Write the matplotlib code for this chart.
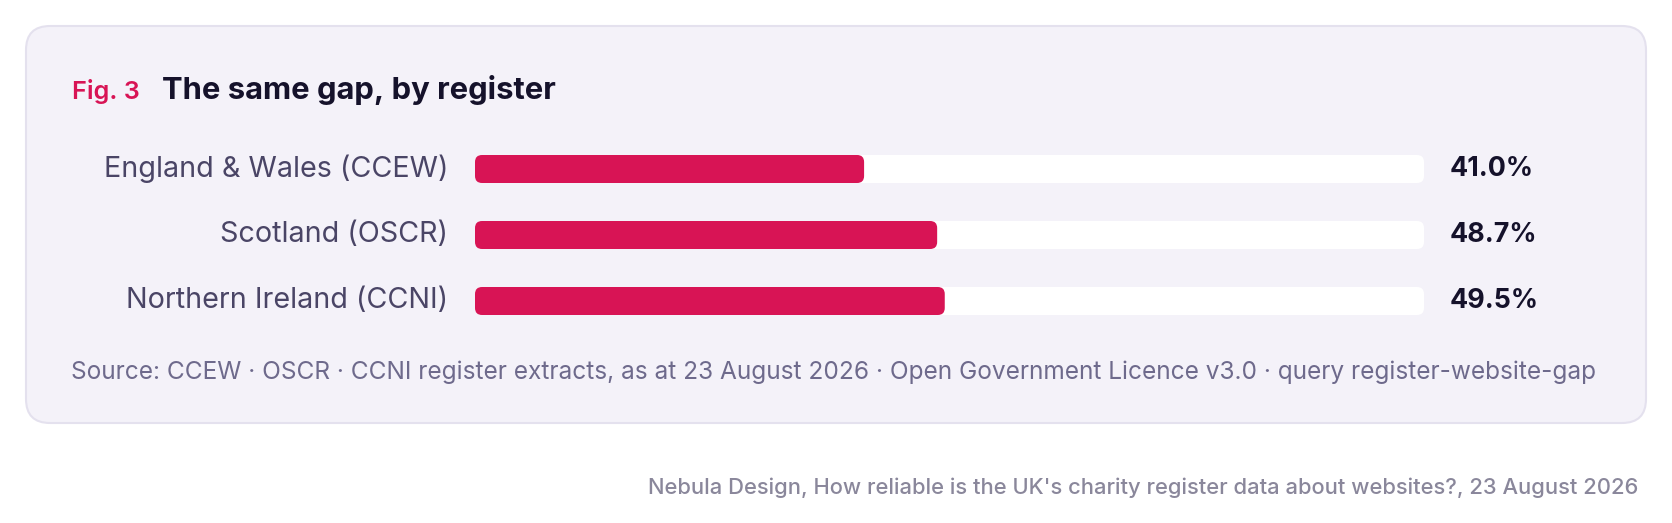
import matplotlib
matplotlib.use("Agg")
import matplotlib.pyplot as plt
from matplotlib.patches import FancyBboxPatch

plt.rcParams['font.family'] = ['Inter', 'DejaVu Sans']

# data
registers = ['England & Wales (CCEW)', 'Scotland (OSCR)', 'Northern Ireland (CCNI)']
share_pct = [41.0, 48.7, 49.5]
value_labels = ['41.0%', '48.7%', '49.5%']

fig_title = 'The same gap, by register'
fig_tag = 'Fig. 3'
source_note = ('Source: CCEW \u00b7 OSCR \u00b7 CCNI register extracts, as at 23 August 2026 '
               '\u00b7 Open Government Licence v3.0 \u00b7 query register-website-gap')
credit = "Nebula Design, How reliable is the UK's charity register data about websites?, 23 August 2026"

CRIMSON = '#d81455'
DARK = '#15122b'
LABEL = '#4a4566'
MUTED = '#6e6a8c'
FOOT = '#8a879b'
CARD = '#f4f2f9'
EDGE = '#e4e1ee'

W, H = 1672, 523
fig = plt.figure(figsize=(W / 100, H / 100), dpi=100)
fig.patch.set_facecolor('white')

# background axes in pixel units (y down)
bg = fig.add_axes([0, 0, 1, 1])
bg.set_xlim(0, W)
bg.set_ylim(H, 0)
bg.axis('off')

card = FancyBboxPatch((26, 26), 1620, 397, boxstyle='round,pad=0,rounding_size=24',
                      facecolor=CARD, edgecolor=EDGE, linewidth=1.5)
bg.add_patch(card)

bg.text(72, 99, fig_tag, color=CRIMSON, fontsize=18.2, fontweight='semibold', va='baseline')
bg.text(162, 99, fig_title, color=DARK, fontsize=22.3, fontweight='bold', va='baseline')
bg.text(71, 379, source_note, color=MUTED, fontsize=17.6, va='baseline')
bg.text(1638, 494, credit, color=FOOT, fontsize=15.8, fontweight='medium', va='baseline', ha='right')

# bar axes: track spans 475..1424 px, rows centred at 169, 235, 301 px
x0, x1 = 475, 1424
y_top, y_bot = 136, 334
ax = fig.add_axes([x0 / W, 1 - y_bot / H, (x1 - x0) / W, (y_bot - y_top) / H])
ax.set_xlim(0, 100)
ax.set_ylim(len(registers) - 0.5, -0.5)
ax.axis('off')

px_x = 100 / (x1 - x0)
px_y = len(registers) / (y_bot - y_top)
bar_h = 28 * px_y
aspect = px_y / px_x
r = 7 * px_x

for i, (name, v, lab) in enumerate(zip(registers, share_pct, value_labels)):
    track = FancyBboxPatch((0, i - bar_h / 2), 100, bar_h,
                           boxstyle=f'round,pad=0,rounding_size={r}',
                           mutation_aspect=aspect, facecolor='white', edgecolor='none')
    ax.add_patch(track)
    bar = FancyBboxPatch((0, i - bar_h / 2), v, bar_h,
                         boxstyle=f'round,pad=0,rounding_size={r}',
                         mutation_aspect=aspect, facecolor=CRIMSON, edgecolor='none')
    ax.add_patch(bar)
    ax.text(-27 * px_x, i, name, ha='right', va='center', color=LABEL, fontsize=20.7,
            clip_on=False)
    ax.text(100 + 26 * px_x, i, lab, ha='left', va='center', color=DARK, fontsize=19.3,
            fontweight='bold', clip_on=False)

fig.savefig('out.png', dpi=100, facecolor='white')
